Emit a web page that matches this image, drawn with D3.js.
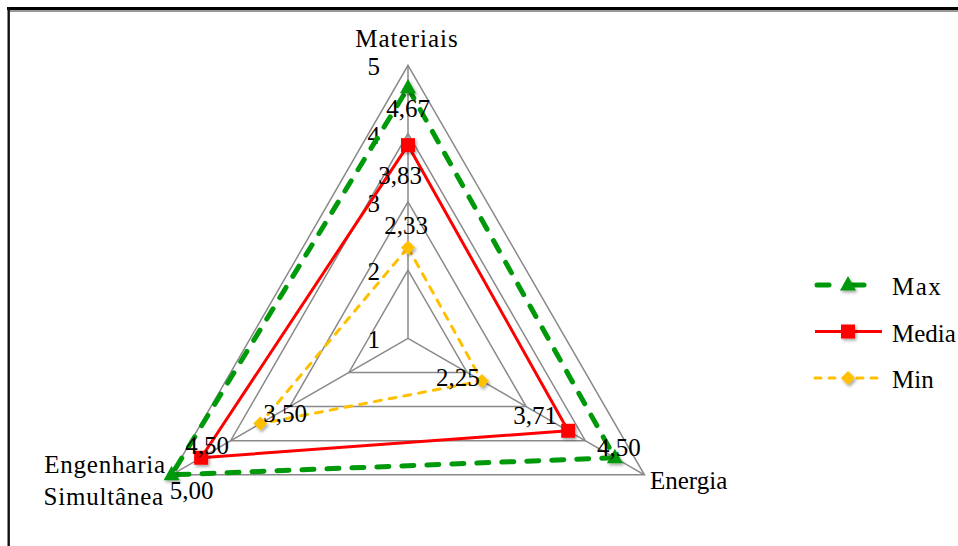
<!DOCTYPE html>
<html>
<head>
<meta charset="utf-8">
<script src="https://cdn.jsdelivr.net/npm/d3@7"></script>
<style>
  html, body { margin: 0; padding: 0; background: #fff; }
  svg { display: block; }
  text { font-family: "Liberation Serif", "Times New Roman", serif; fill: #000; }
</style>
</head>
<body>
<svg id="chart" width="958" height="546"></svg>
<script>
// Radar chart data
const categories = ["Materiais", "Energia", "Engenharia Simultânea"];
const maxValues   = [4.67, 4.50, 5.00];
const mediaValues = [3.83, 3.71, 4.50];
const minValues   = [2.33, 2.25, 3.50];
const tickValues  = [1, 2, 3, 4, 5];
const seriesNames = ["Max", "Media", "Min"];

// Layout and styling
const W = 958, H = 546;
const cx = 408, cy = 338.3, R = 273;
const FS = 25;
const seriesStyle = {
  Max:   { color: "#00990A", width: 5,   dash: "12,13", marker: "triangle" },
  Media: { color: "#FF0000", width: 3,   dash: null,    marker: "square" },
  Min:   { color: "#FFC000", width: 3,   dash: "7,8",   marker: "diamond" }
};
// Per-point data label nudges (px) relative to the marker
const labelNudge = {
  Max:   [[0, 29], [4, -2], [20, 24]],
  Media: [[-8, 39], [-33, -7], [6, -4]],
  Min:   [[-2, -14], [-24, 5], [25, -2]]
};

const svg = d3.select("#chart");
svg.append("rect").attr("width", W).attr("height", H).attr("fill", "#fff");

const defs = svg.append("defs");
const f = defs.append("filter").attr("id", "shadow")
  .attr("x", "-50%").attr("y", "-50%").attr("width", "200%").attr("height", "200%");
f.append("feGaussianBlur").attr("in", "SourceGraphic").attr("stdDeviation", 0.6).attr("result", "soft");
f.append("feDropShadow").attr("in", "soft").attr("dx", 1.5).attr("dy", 2)
  .attr("stdDeviation", 1.8).attr("flood-color", "#000").attr("flood-opacity", 0.35);

// Frame lines
svg.append("line").attr("x1", 7).attr("x2", W).attr("y1", 8.5).attr("y2", 8.5)
  .attr("stroke", "#000").attr("stroke-width", 3);
svg.append("line").attr("x1", 10).attr("x2", W).attr("y1", 11).attr("y2", 11)
  .attr("stroke", "#999").attr("stroke-width", 2);
svg.append("line").attr("x1", 8.7).attr("x2", 8.7).attr("y1", 7).attr("y2", H)
  .attr("stroke", "#111").attr("stroke-width", 2.4);

const r = d3.scaleLinear().domain([1, 5]).range([0, R]);
const angle = i => -Math.PI / 2 + i * 2 * Math.PI / categories.length;
const pt = (v, i) => [cx + r(v) * Math.cos(angle(i)), cy + r(v) * Math.sin(angle(i))];

const fmt = v => d3.format(".2f")(v).replace(".", ",");

// Grid rings
const grid = svg.append("g");
tickValues.filter(t => t > 1).forEach(t => {
  grid.append("path")
    .attr("d", d3.line()(categories.map((c, i) => pt(t, i))) + "Z")
    .attr("fill", "none").attr("stroke", "#8a8a8a").attr("stroke-width", 1.5);
});
// Spokes
categories.forEach((c, i) => {
  const [x, y] = pt(5, i);
  grid.append("line").attr("x1", cx).attr("y1", cy).attr("x2", x).attr("y2", y)
    .attr("stroke", "#8a8a8a").attr("stroke-width", 1.5);
});

// Tick labels along the first axis
svg.append("g").selectAll("text").data(tickValues).join("text")
  .attr("x", cx - 28).attr("y", d => cy - r(d) + 10)
  .attr("text-anchor", "end").attr("font-size", FS)
  .text(d => d);

// Category labels
svg.append("text").attr("x", 407).attr("y", 47).attr("text-anchor", "middle")
  .attr("font-size", FS).attr("letter-spacing", 1).text(categories[0]);
svg.append("text").attr("x", 650).attr("y", 489).attr("text-anchor", "start")
  .attr("font-size", FS).text(categories[1]);
const eng = categories[2].split(" ");
svg.append("text").attr("x", 166).attr("y", 473).attr("text-anchor", "end")
  .attr("font-size", FS).attr("letter-spacing", 0.8).text(eng[0]);
svg.append("text").attr("x", 164).attr("y", 505).attr("text-anchor", "end")
  .attr("font-size", FS).attr("letter-spacing", 0.8).text(eng[1]);

// Marker shapes
function markerPath(type, x, y, s) {
  if (type === "square") {
    return `M${x - s / 2},${y - s / 2}h${s}v${s}h${-s}Z`;
  } else if (type === "diamond") {
    return `M${x},${y - s / 2}L${x + s / 2},${y}L${x},${y + s / 2}L${x - s / 2},${y}Z`;
  } else {
    const h = s * 0.9;
    return `M${x},${y - h * 0.62}L${x + s / 2},${y + h * 0.38}L${x - s / 2},${y + h * 0.38}Z`;
  }
}
const markerSize = { triangle: 16, square: 14, diamond: 14 };

const seriesData = { Max: maxValues, Media: mediaValues, Min: minValues };

// Series polygons
seriesNames.forEach(name => {
  const st = seriesStyle[name];
  const pts = seriesData[name].map((v, i) => pt(v, i));
  svg.append("path")
    .attr("d", d3.line()(pts) + "Z")
    .attr("fill", "none").attr("stroke", st.color).attr("stroke-width", st.width)
    .attr("stroke-dasharray", st.dash).attr("stroke-linecap", st.dash ? "round" : "butt")
    .attr("stroke-linejoin", "round");
});
// Markers
seriesNames.forEach(name => {
  const st = seriesStyle[name];
  seriesData[name].forEach((v, i) => {
    const [x, y] = pt(v, i);
    svg.append("path").attr("d", markerPath(st.marker, x, y, markerSize[st.marker]))
      .attr("fill", st.color).attr("filter", "url(#shadow)");
  });
});
// Data labels
seriesNames.forEach(name => {
  seriesData[name].forEach((v, i) => {
    const [x, y] = pt(v, i);
    const [dx, dy] = labelNudge[name][i];
    svg.append("text").attr("x", x + dx).attr("y", y + dy)
      .attr("text-anchor", "middle").attr("font-size", FS).text(fmt(v));
  });
});

// Legend
const legend = svg.append("g");
seriesNames.forEach((name, k) => {
  const st = seriesStyle[name];
  const y = 285 + k * 46.5;
  legend.append("line").attr("x1", 815).attr("x2", 882).attr("y1", y).attr("y2", y)
    .attr("stroke", st.color).attr("stroke-width", st.width)
    .attr("stroke-dasharray", st.dash ? (name === "Max" ? "12,23" : "6,8") : null)
    .attr("stroke-dashoffset", name === "Max" ? -2 : 0)
    .attr("stroke-linecap", st.dash ? "round" : "butt");
  legend.append("path").attr("d", markerPath(st.marker, 848, y, markerSize[st.marker]))
    .attr("fill", st.color).attr("filter", "url(#shadow)");
  legend.append("text").attr("x", 892).attr("y", y + 10).attr("font-size", FS)
    .attr("letter-spacing", name === "Max" ? 1.5 : 0).text(name);
});
</script>
</body>
</html>
